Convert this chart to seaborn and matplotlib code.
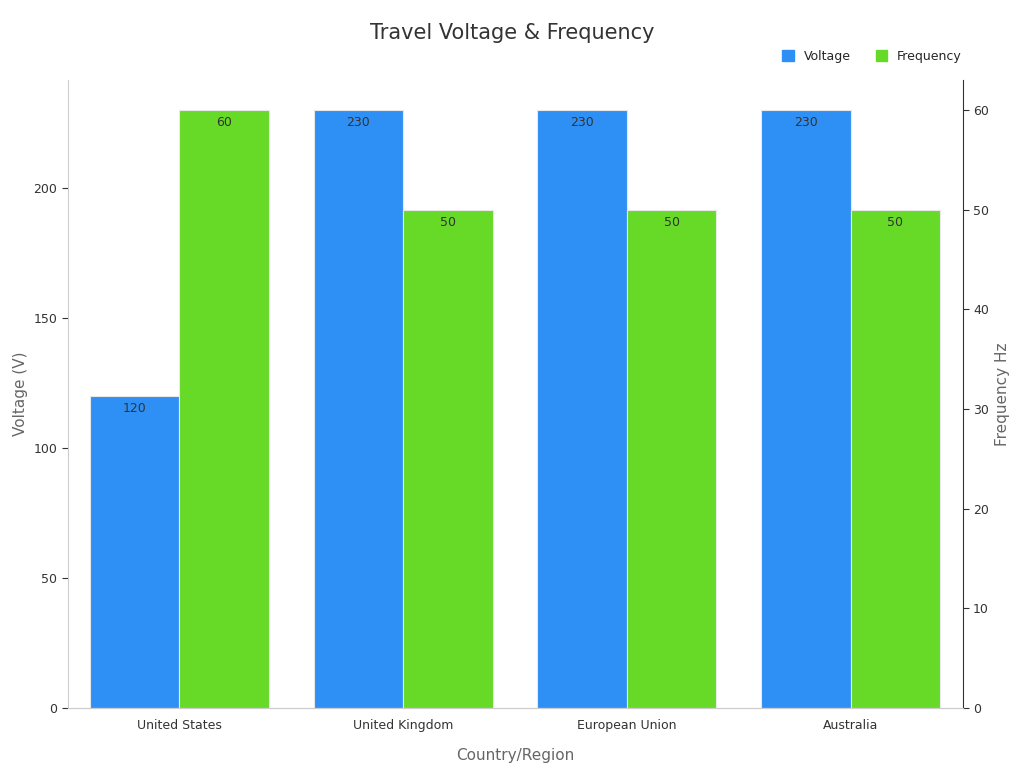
import numpy as np
import pandas as pd
import matplotlib
matplotlib.use("Agg")
import matplotlib.pyplot as plt
import seaborn as sb
from matplotlib.patches import Patch

# Data
regions = ["United States", "United Kingdom", "European Union", "Australia"]
voltage = [120, 230, 230, 230]
frequency = [60, 50, 50, 50]

blue = "#2E90F5"
green = "#66DA26"
series = ["Voltage", "Frequency"]

df_v = pd.DataFrame({"region": regions * 2,
                     "value": voltage + [np.nan] * 4,
                     "series": ["Voltage"] * 4 + ["Frequency"] * 4})
df_f = pd.DataFrame({"region": regions * 2,
                     "value": [np.nan] * 4 + frequency,
                     "series": ["Voltage"] * 4 + ["Frequency"] * 4})

sb.set_style("white")
fig, ax1 = plt.subplots(figsize=(10.24, 7.68), dpi=100)
ax2 = ax1.twinx()

pal = {"Voltage": blue, "Frequency": green}
sb.barplot(data=df_v, x="region", y="value", hue="series", hue_order=series,
           palette=pal, errorbar=None, width=0.8, ax=ax1, legend=False,
           edgecolor="#e8e8e8", linewidth=0.8, saturation=1)
sb.barplot(data=df_f, x="region", y="value", hue="series", hue_order=series,
           palette=pal, errorbar=None, width=0.8, ax=ax2, legend=False,
           edgecolor="#e8e8e8", linewidth=0.8, saturation=1)

ax1.set_ylim(0, max(voltage) * 1.05)
ax2.set_ylim(0, max(frequency) * 1.05)
ax1.set_xlim(-0.5, len(regions) - 0.5)

# Value labels inside bar tops
for ax in (ax1, ax2):
    for c in ax.containers:
        labels = ["" if np.isnan(v) else f"{v:.0f}" for v in c.datavalues]
        ax.bar_label(c, labels=labels, padding=-14, fontsize=9, color="#333333")

ax1.set_xlabel("Country/Region", fontsize=11, color="#666666", labelpad=12)
ax1.set_ylabel("Voltage (V)", fontsize=11, color="#666666")
ax2.set_ylabel("Frequency Hz", fontsize=11, color="#666666")
ax1.set_yticks([0, 50, 100, 150, 200])
ax2.set_yticks([0, 10, 20, 30, 40, 50, 60])
for ax in (ax1, ax2):
    ax.tick_params(labelsize=9, colors="#333333", length=4)
    for s in ax.spines.values():
        s.set_color("#cccccc")
    ax.spines["top"].set_visible(False)
ax2.spines["right"].set_color("#333333")
ax2.spines["left"].set_visible(False)
ax1.spines["right"].set_visible(False)

fig.suptitle("Travel Voltage & Frequency", fontsize=15, color="#333333", y=0.97)
handles = [Patch(color=blue, label="Voltage"), Patch(color=green, label="Frequency")]
fig.legend(handles=handles, loc="upper right", bbox_to_anchor=(0.95, 0.95), ncol=2,
           frameon=False, fontsize=9, handlelength=0.9, handleheight=0.9,
           columnspacing=2)

plt.subplots_adjust(left=0.066, right=0.94, top=0.896, bottom=0.078)
plt.savefig("out.png", dpi=100)
